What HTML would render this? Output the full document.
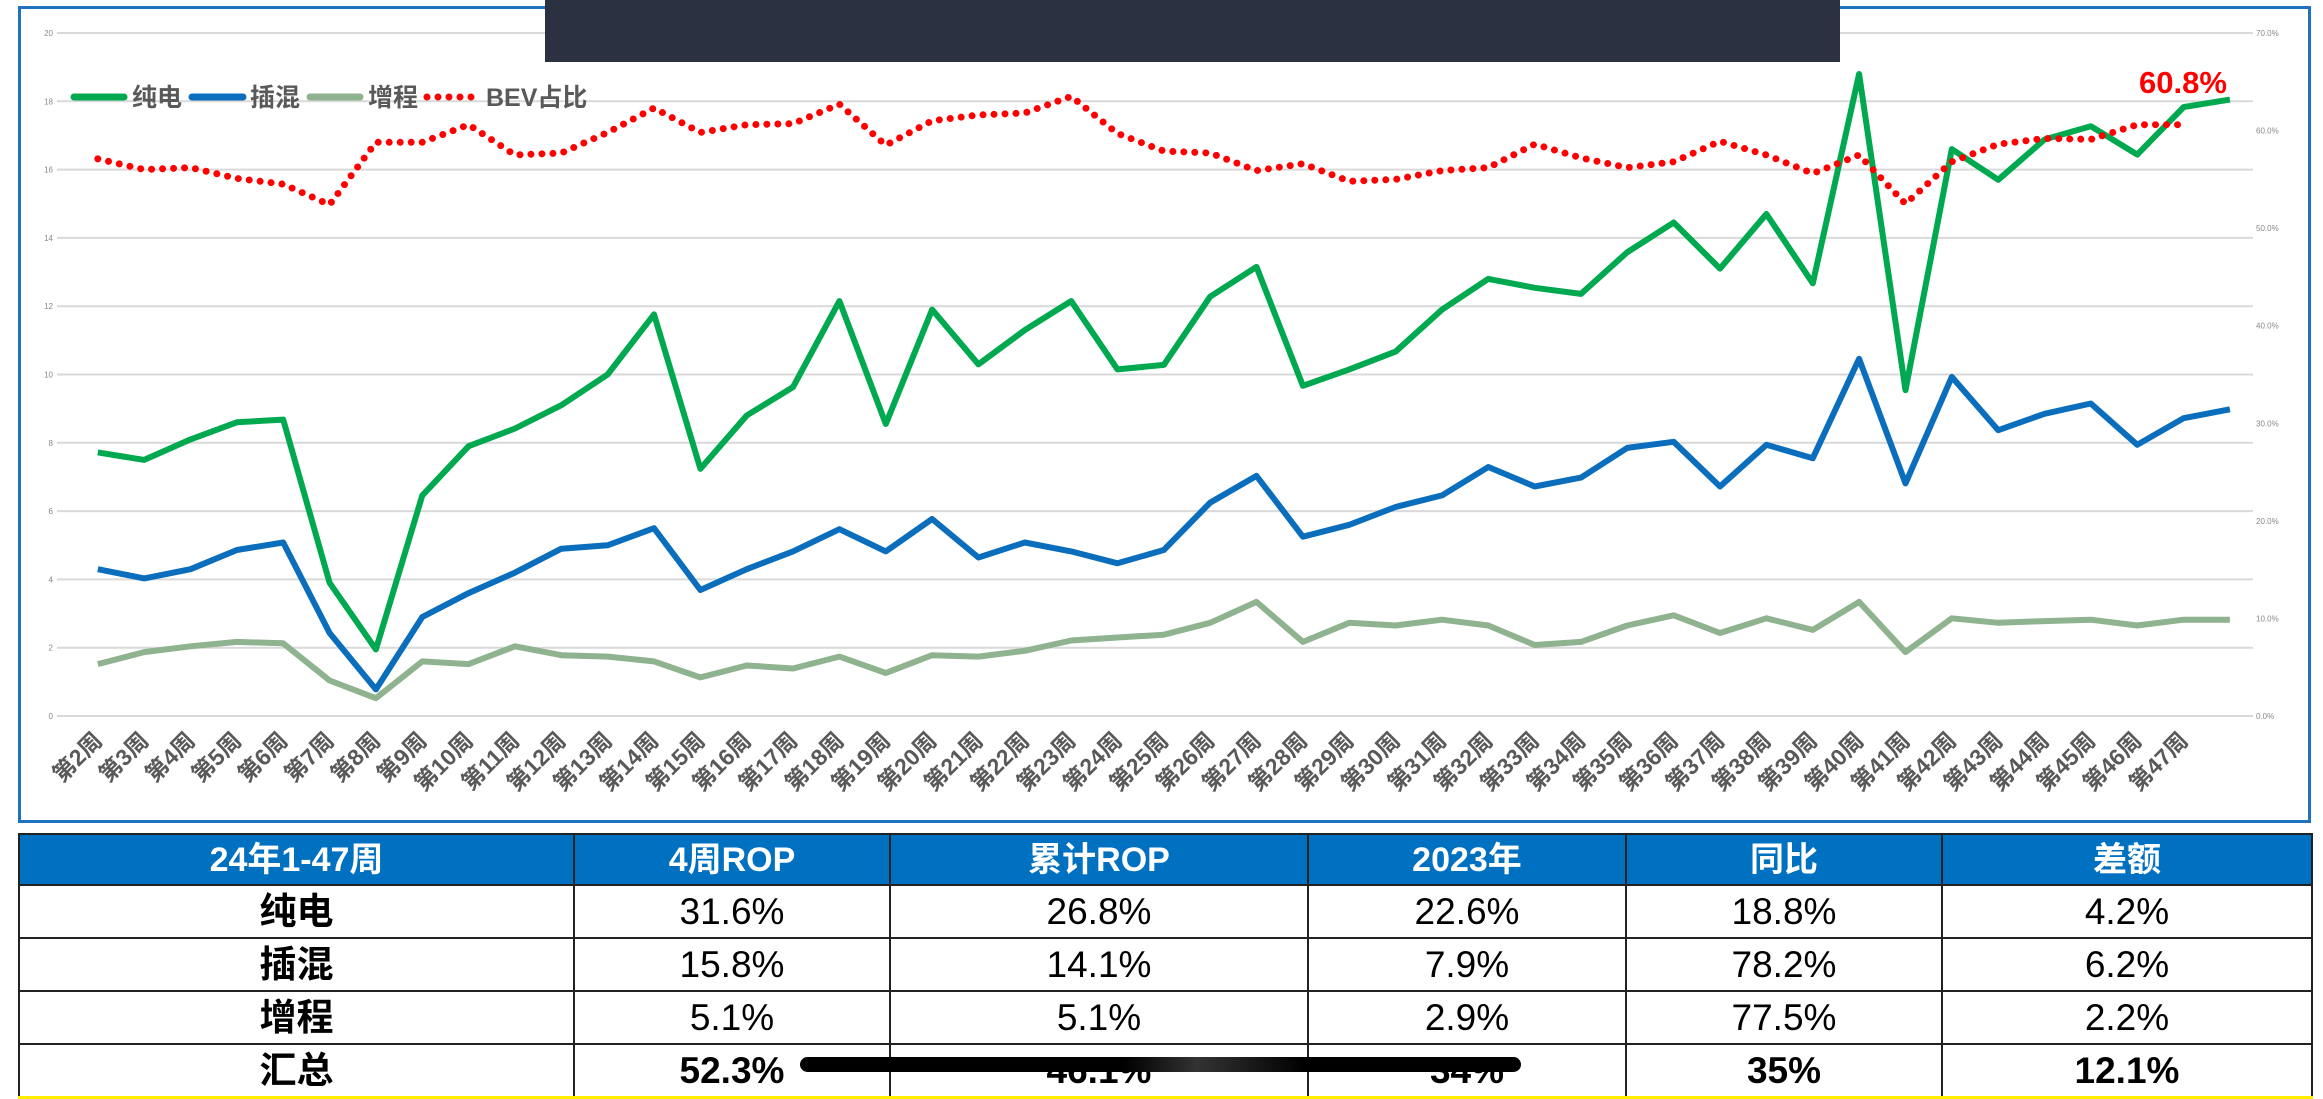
<!DOCTYPE html>
<html><head><meta charset="utf-8">
<style>
html,body{margin:0;padding:0;background:#fff;}
body{width:2323px;height:1097px;position:relative;overflow:hidden;font-family:"Liberation Sans","Noto Sans CJK SC",sans-serif;}
#chart{position:absolute;left:0;top:0;}
table{position:absolute;left:18px;top:833px;border-collapse:collapse;table-layout:fixed;}
td,th{border:2px solid #222;text-align:center;padding:0;overflow:hidden;white-space:nowrap;line-height:1;box-sizing:border-box;}
th{background:#0070c0;color:#fff;font-weight:bold;font-size:34px;}
td{font-size:37px;color:#000;}
tr.h{height:51px;}
tr.r{height:53px;}
td.k{font-weight:bold;}
tr.sum td{font-weight:bold;}
tr.sum td{border-bottom:3px solid #ffee00;}
#strike{position:absolute;left:800px;top:1057px;width:721px;height:15px;border-radius:8px;background:linear-gradient(90deg,#000 0%,#000 45%,#333 55%,#000 70%,#000 100%);}
</style></head><body>
<svg id="chart" width="2323" height="830" xmlns="http://www.w3.org/2000/svg">
  <rect x="19.5" y="7.5" width="2290" height="814" fill="#fff" stroke="#1f73be" stroke-width="3"/>
  <g id="grid"></g>
  <g id="series"></g>
  <g id="xlabels"></g>
  <rect x="545" y="0" width="1295" height="62" fill="#2b3140"/>
  <g font-weight="bold" font-size="25" fill="#595959">
    <line x1="74" y1="97" x2="124" y2="97" stroke="#00a94f" stroke-width="7" stroke-linecap="round"/>
    <text x="132" y="106">纯电</text>
    <line x1="192" y1="97" x2="243" y2="97" stroke="#0a6ebd" stroke-width="7" stroke-linecap="round"/>
    <text x="250" y="106">插混</text>
    <line x1="310" y1="97" x2="360" y2="97" stroke="#8fb28f" stroke-width="7" stroke-linecap="round"/>
    <text x="368" y="106">增程</text>
    <line x1="427" y1="97" x2="475" y2="97" stroke="#ff0000" stroke-width="7" stroke-linecap="round" stroke-dasharray="0 11"/>
    <text x="486" y="106">BEV占比</text>
  </g>
  <text x="2183" y="93" text-anchor="middle" font-size="31" font-weight="bold" fill="#ff0000">60.8%</text>
</svg>

<table>
<colgroup><col style="width:555px"><col style="width:316px"><col style="width:418px"><col style="width:318px"><col style="width:316px"><col style="width:370px"></colgroup>
<tr class="h"><th>24年1-47周</th><th>4周ROP</th><th>累计ROP</th><th>2023年</th><th>同比</th><th>差额</th></tr>
<tr class="r"><td class="k">纯电</td><td>31.6%</td><td>26.8%</td><td>22.6%</td><td>18.8%</td><td>4.2%</td></tr>
<tr class="r"><td class="k">插混</td><td>15.8%</td><td>14.1%</td><td>7.9%</td><td>78.2%</td><td>6.2%</td></tr>
<tr class="r"><td class="k">增程</td><td>5.1%</td><td>5.1%</td><td>2.9%</td><td>77.5%</td><td>2.2%</td></tr>
<tr class="r sum"><td>汇总</td><td>52.3%</td><td>46.1%</td><td>34%</td><td>35%</td><td>12.1%</td></tr>
</table>
<div id="strike"></div>

<script>
const weeks = ["第2周","第3周","第4周","第5周","第6周","第7周","第8周","第9周","第10周","第11周","第12周","第13周","第14周","第15周","第16周","第17周","第18周","第19周","第20周","第21周","第22周","第23周","第24周","第25周","第26周","第27周","第28周","第29周","第30周","第31周","第32周","第33周","第34周","第35周","第36周","第37周","第38周","第39周","第40周","第41周","第42周","第43周","第44周","第45周","第46周","第47周",""];
const bev = [7.72,7.5,8.1,8.6,8.68,3.9,1.95,6.46,7.9,8.42,9.1,10.0,11.76,7.24,8.8,9.63,12.15,8.55,11.9,10.3,11.3,12.15,10.15,10.28,12.28,13.15,9.67,10.15,10.67,11.9,12.8,12.54,12.36,13.58,14.45,13.1,14.7,12.67,18.8,9.54,16.6,15.7,16.88,17.27,16.44,17.83,18.05];
const phev = [4.3,4.03,4.3,4.86,5.08,2.43,0.78,2.9,3.6,4.2,4.9,5.0,5.5,3.69,4.3,4.82,5.47,4.82,5.77,4.64,5.08,4.82,4.47,4.86,6.25,7.03,5.25,5.6,6.12,6.46,7.29,6.72,6.98,7.85,8.03,6.72,7.94,7.55,10.46,6.81,9.93,8.37,8.85,9.15,7.94,8.72,8.98];
const erev = [1.52,1.87,2.04,2.17,2.13,1.04,0.52,1.6,1.52,2.04,1.78,1.74,1.6,1.13,1.48,1.39,1.74,1.26,1.78,1.74,1.91,2.21,2.3,2.38,2.73,3.34,2.17,2.73,2.65,2.82,2.65,2.08,2.17,2.65,2.95,2.43,2.86,2.52,3.34,1.87,2.86,2.73,2.78,2.82,2.65,2.82,2.82];
const bevShare = [57.1,56.0,56.2,55.1,54.5,52.4,58.8,58.8,60.6,57.5,57.7,59.8,62.3,59.8,60.6,60.7,62.7,58.5,61.0,61.6,61.8,63.5,59.7,57.9,57.7,55.9,56.6,54.8,55.0,55.9,56.2,58.6,57.2,56.2,56.8,58.9,57.5,55.6,57.5,52.5,56.8,58.6,59.2,59.1,60.6,60.6];
const leftTicks = [0,2,4,6,8,10,12,14,16,18,20];
const rightTicks = ["0.0%","10.0%","20.0%","30.0%","40.0%","50.0%","60.0%","70.0%"];

const NS="http://www.w3.org/2000/svg";
const X0=97.8, DX=46.35, YB=716, YT=33;
const xs=i=>X0+i*DX;
const yL=v=>YB-(v/20)*(YB-YT);
const yR=p=>YB-(p/70)*(YB-YT);
function mk(tag,attrs,parent){const e=document.createElementNS(NS,tag);for(const k in attrs)e.setAttribute(k,attrs[k]);parent.appendChild(e);return e;}
const grid=document.getElementById('grid');
leftTicks.forEach(v=>{
  const l=mk('line',{x1:57,x2:2253,y1:yL(v),y2:yL(v),stroke:'#d9d9d9','stroke-width':2},grid);
  
  
  const t=mk('text',{x:53,y:yL(v)+3,'text-anchor':'end','font-size':8,fill:'#888'},grid);
  t.textContent=v;
  
  
});
rightTicks.forEach((s,i)=>{
  const t=mk('text',{x:2256,y:yR(i*10)+3,'font-size':8,fill:'#888'},grid);
  t.textContent=s;
  
  
});
const ser=document.getElementById('series');
function poly(arr,yf,attrs,name){
  const pts=arr.map((v,i)=>xs(i).toFixed(1)+','+yf(v).toFixed(1)).join(' ');
  const p=mk('polyline',Object.assign({points:pts,fill:'none','stroke-linejoin':'round'},attrs),ser);
  
  
}
poly(erev,yL,{stroke:'#8fb28f','stroke-width':6},'erev-line');
poly(phev,yL,{stroke:'#0a6ebd','stroke-width':6},'phev-line');
poly(bev,yL,{stroke:'#00a94f','stroke-width':6},'bev-line');
poly(bevShare,yR,{stroke:'#ff0000','stroke-width':7,'stroke-linecap':'round','stroke-dasharray':'0 11'},'bev-share-line');
const xl=document.getElementById('xlabels');
weeks.forEach((w,i)=>{
  if(!w)return;
  const x=xs(i)+6, y=742;
  const t=mk('text',{x:x,y:y,'text-anchor':'end','font-size':23,'font-weight':'bold',fill:'#595959',transform:`rotate(-45 ${x} ${y})`},xl);
  t.textContent=w;
  
  
});
</script>
</body></html>
